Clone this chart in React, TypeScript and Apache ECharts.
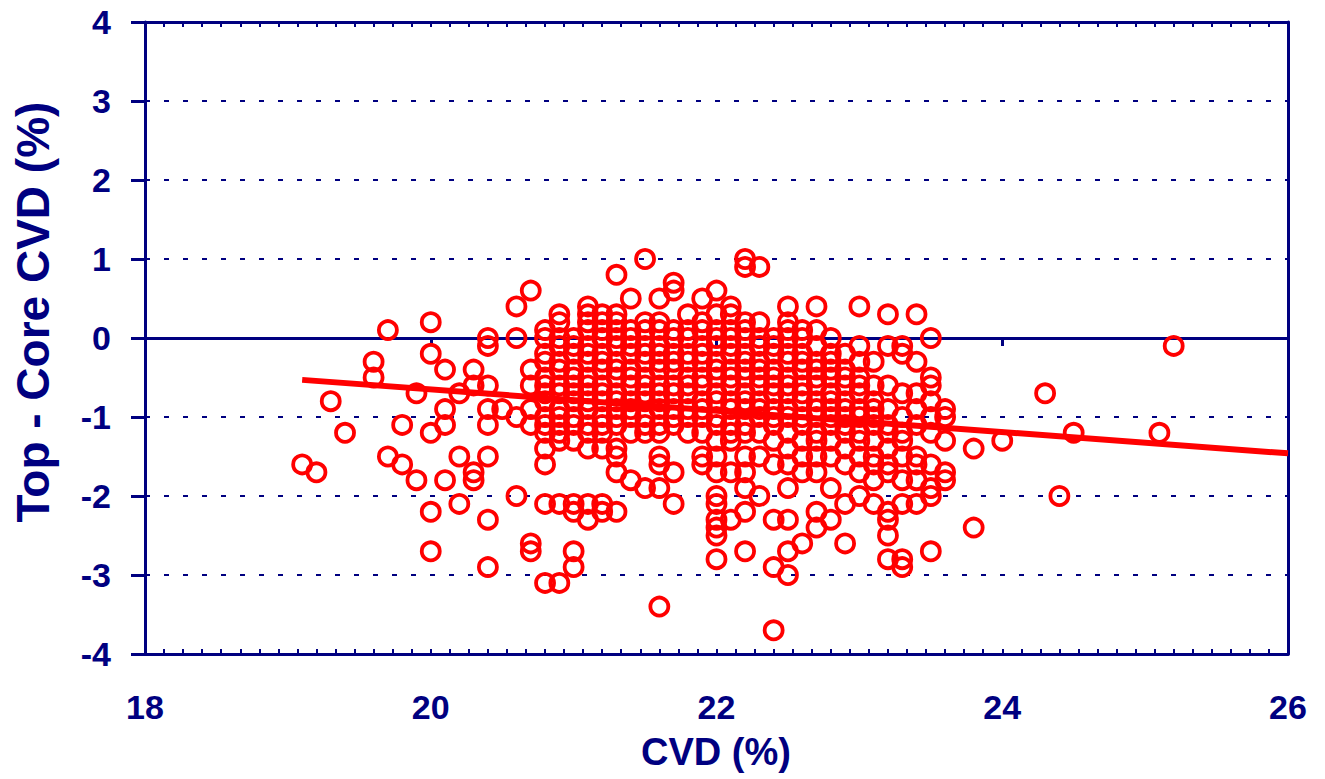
import { useEffect, useRef } from "react";
import * as echarts from "echarts";

// ---- Axis ranges / labels ----
const xRange = [18, 26];
const xStep = 2;
const yRange = [-4, 4];
const yStep = 1;
const xTitle = "CVD (%)";
const yTitle = "Top - Core CVD (%)";

// ---- Sparse points on the left (CVD, Top-Core) ----
const leftPoints: number[][] = [
  [19.1, -1.6], [19.2, -1.7], [19.3, -0.8], [19.4, -1.2], [19.6, -0.3], [19.6, -0.5],
  [19.7, 0.1], [19.7, -1.5], [19.8, -1.1], [19.8, -1.6], [19.9, -0.7], [19.9, -1.8],
  [20.0, 0.2], [20.0, -0.2], [20.0, -1.2], [20.0, -2.2], [20.0, -2.7],
  [20.1, -0.4], [20.1, -0.9], [20.1, -1.1], [20.1, -1.8],
  [20.2, -0.7], [20.2, -1.5], [20.2, -2.1],
  [20.3, -0.4], [20.3, -0.6], [20.3, -1.7], [20.3, -1.8],
  [20.4, 0.0], [20.4, -0.1], [20.4, -0.6], [20.4, -0.9], [20.4, -1.1], [20.4, -1.5], [20.4, -2.3], [20.4, -2.9],
  [20.5, -0.9],
  [20.6, 0.4], [20.6, 0.0], [20.6, -1.0], [20.6, -2.0],
  [20.7, 0.6], [20.7, -0.4], [20.7, -0.6], [20.7, -0.9], [20.7, -1.1], [20.7, -2.6], [20.7, -2.7],
];

// ---- Dense central cloud: CVD column and its Top-Core values ----
const denseCvd = [
  20.8, 20.9, 21.0, 21.1, 21.2, 21.3, 21.4, 21.5, 21.6, 21.7,
  21.8, 21.9, 22.0, 22.1, 22.2, 22.3, 22.4, 22.5, 22.6, 22.7,
  22.8, 22.9, 23.0, 23.1, 23.2, 23.3, 23.4, 23.5, 23.6,
];
const denseDiff: number[][] = [
  [0.1, 0.0, -0.2, -0.3, -0.5, -0.6, -0.7, -0.8, -1.0, -1.1, -1.2, -1.4, -1.6, -2.1, -3.1],
  [0.3, 0.2, 0.0, -0.1, -0.3, -0.4, -0.6, -0.7, -0.9, -1.0, -1.1, -1.2, -1.3, -2.1, -3.1],
  [0.0, -0.1, -0.2, -0.4, -0.5, -0.6, -0.7, -0.8, -1.0, -1.1, -1.3, -2.1, -2.2, -2.7, -2.9],
  [0.4, 0.3, 0.2, 0.1, -0.1, -0.2, -0.3, -0.5, -0.6, -0.7, -0.8, -0.9, -1.1, -1.2, -1.4, -2.1, -2.3],
  [0.3, 0.2, 0.1, 0.0, -0.2, -0.3, -0.4, -0.6, -0.7, -0.8, -1.0, -1.1, -1.2, -1.4, -2.1, -2.2],
  [0.8, 0.3, 0.2, 0.1, 0.0, -0.1, -0.3, -0.4, -0.5, -0.7, -0.8, -0.9, -1.0, -1.1, -1.4, -1.5, -1.7, -2.2],
  [0.5, 0.1, 0.0, -0.1, -0.2, -0.4, -0.5, -0.6, -0.8, -0.9, -1.0, -1.2, -1.8],
  [1.0, 0.2, 0.1, -0.1, -0.2, -0.3, -0.5, -0.6, -0.7, -0.8, -1.0, -1.1, -1.2, -1.9],
  [0.5, 0.2, 0.1, -0.1, -0.2, -0.3, -0.4, -0.6, -0.7, -0.8, -0.9, -1.1, -1.2, -1.5, -1.6, -1.9, -3.4],
  [0.7, 0.6, 0.1, 0.0, -0.2, -0.3, -0.4, -0.6, -0.7, -0.9, -1.0, -1.1, -1.7, -2.1],
  [0.3, 0.1, 0.0, -0.2, -0.3, -0.5, -0.6, -0.7, -0.9, -1.0, -1.2],
  [0.5, 0.2, 0.1, -0.1, -0.2, -0.3, -0.5, -0.6, -0.8, -0.9, -1.0, -1.2, -1.5, -1.6],
  [0.6, 0.3, 0.1, 0.0, -0.1, -0.3, -0.4, -0.5, -0.7, -0.8, -1.0, -1.1, -1.3, -1.5, -1.7, -2.0, -2.1, -2.3, -2.4, -2.5, -2.8],
  [0.4, 0.3, 0.1, 0.0, -0.1, -0.2, -0.4, -0.5, -0.6, -0.8, -0.9, -1.1, -1.2, -1.3, -1.7, -2.3],
  [1.0, 0.9, 0.2, 0.1, 0.0, -0.2, -0.3, -0.4, -0.5, -0.7, -0.8, -0.9, -1.1, -1.2, -1.5, -1.7, -1.9, -2.2, -2.7],
  [0.9, 0.2, 0.0, -0.1, -0.3, -0.4, -0.5, -0.6, -0.8, -0.9, -1.0, -1.2, -1.5, -2.0],
  [0.0, -0.1, -0.2, -0.4, -0.5, -0.6, -0.7, -0.9, -1.0, -1.1, -1.3, -1.6, -2.3, -2.9, -3.7],
  [0.4, 0.2, 0.1, 0.0, -0.2, -0.3, -0.5, -0.6, -0.7, -0.9, -1.0, -1.2, -1.4, -1.6, -1.9, -2.3, -2.7, -3.0],
  [0.1, 0.0, -0.2, -0.3, -0.4, -0.6, -0.7, -0.8, -1.0, -1.1, -1.3, -1.5, -1.7, -2.6],
  [0.4, 0.1, -0.1, -0.3, -0.4, -0.5, -0.6, -0.8, -0.9, -1.0, -1.2, -1.3, -1.5, -1.7, -2.2, -2.4],
  [0.0, -0.2, -0.3, -0.4, -0.5, -0.7, -0.8, -0.9, -1.0, -1.1, -1.3, -1.5, -1.9, -2.3],
  [-0.2, -0.4, -0.5, -0.6, -0.8, -0.9, -1.0, -1.1, -1.2, -1.4, -1.6, -2.1, -2.6],
  [0.4, -0.1, -0.3, -0.5, -0.6, -0.7, -0.9, -1.0, -1.2, -1.3, -1.5, -1.7, -2.0],
  [-0.3, -0.6, -0.8, -0.9, -1.0, -1.1, -1.3, -1.5, -1.6, -1.8, -2.1],
  [0.3, -0.1, -0.6, -0.9, -1.1, -1.2, -1.4, -1.6, -1.7, -2.2, -2.3, -2.5, -2.8],
  [-0.1, -0.2, -0.7, -1.0, -1.2, -1.3, -1.5, -1.8, -2.1, -2.8, -2.9],
  [0.3, -0.3, -0.7, -0.9, -1.1, -1.5, -1.6, -1.8, -2.1],
  [0.0, -0.5, -0.6, -0.8, -1.0, -1.2, -1.6, -1.9, -2.0, -2.7],
  [-0.9, -1.0, -1.3, -1.7, -1.8],
];

// ---- Sparse points on the right ----
const rightPoints: number[][] = [
  [23.8, -1.4], [23.8, -2.4], [24.0, -1.3], [24.3, -0.7], [24.4, -2.0],
  [24.5, -1.2], [25.1, -1.2], [25.2, -0.1],
];

// ---- Regression line end points ----
const trendCvd = [19.1, 26.0];
const trendDiff = [-0.53, -1.46];

const NAVY = "#000080";
const RED = "#FF0000";
const FONT = '"Liberation Sans", Arial, Helvetica, sans-serif';

export default function App() {
  const ref = useRef<HTMLDivElement>(null);

  useEffect(() => {
    if (!ref.current) return;
    const chart = echarts.init(ref.current, null, { renderer: "svg" });

    const points: number[][] = [...leftPoints];
    denseCvd.forEach((x, i) => {
      denseDiff[i].forEach((y) => points.push([x, y]));
    });
    points.push(...rightPoints);

    const labelStyle = {
      color: NAVY,
      fontFamily: FONT,
      fontWeight: "bold" as const,
      fontSize: 34,
    };

    chart.setOption({
      animation: false,
      backgroundColor: "#ffffff",
      grid: { left: 145, right: 37, top: 22, bottom: 125, containLabel: false },
      xAxis: [
        {
          type: "value",
          position: "bottom",
          min: xRange[0],
          max: xRange[1],
          interval: xStep,
          axisLine: { show: true, onZero: false, lineStyle: { color: NAVY, width: 3 } },
          axisTick: { show: true, inside: true, length: 5, lineStyle: { color: NAVY, width: 2 } },
          minorTick: { show: true, splitNumber: 15, length: 5, lineStyle: { color: NAVY, width: 2 } },
          axisLabel: { ...labelStyle, margin: 36 },
          splitLine: { show: false },
        },
        {
          type: "value",
          position: "bottom",
          min: xRange[0],
          max: xRange[1],
          interval: xStep,
          axisLine: { show: true, onZero: true, lineStyle: { color: NAVY, width: 3 } },
          axisTick: { show: true, inside: false, length: 8, lineStyle: { color: NAVY, width: 3 } },
          axisLabel: { show: false },
          splitLine: { show: false },
        },
        {
          type: "value",
          position: "top",
          min: xRange[0],
          max: xRange[1],
          interval: xStep,
          axisLine: { show: true, onZero: false, lineStyle: { color: NAVY, width: 3 } },
          axisTick: { show: true, inside: true, length: 5, lineStyle: { color: NAVY, width: 2 } },
          minorTick: { show: true, splitNumber: 15, length: 5, lineStyle: { color: NAVY, width: 2 } },
          axisLabel: { show: false },
          splitLine: { show: false },
        },
      ],
      yAxis: [
        {
          type: "value",
          position: "left",
          min: yRange[0],
          max: yRange[1],
          interval: yStep,
          axisLine: { show: true, onZero: false, lineStyle: { color: NAVY, width: 3 } },
          axisTick: { show: true, inside: false, length: 14, lineStyle: { color: NAVY, width: 3 } },
          axisLabel: { ...labelStyle, margin: 34 },
          splitLine: {
            show: true,
            lineStyle: { color: NAVY, width: 2, type: [5, 14] },
          },
        },
        {
          type: "value",
          position: "right",
          min: yRange[0],
          max: yRange[1],
          axisLine: { show: true, onZero: false, lineStyle: { color: NAVY, width: 3 } },
          axisTick: { show: false },
          axisLabel: { show: false },
          splitLine: { show: false },
        },
      ],
      series: [
        {
          type: "scatter",
          xAxisIndex: 0,
          yAxisIndex: 0,
          symbol: "circle",
          symbolSize: 18,
          data: points,
          silent: true,
          itemStyle: { color: "rgba(0,0,0,0)", borderColor: RED, borderWidth: 3.8, opacity: 1 },
          z: 3,
        },
        {
          type: "line",
          xAxisIndex: 0,
          yAxisIndex: 0,
          data: trendCvd.map((x, i) => [x, trendDiff[i]]),
          showSymbol: false,
          symbol: "none",
          silent: true,
          lineStyle: { color: RED, width: 6 },
          z: 4,
        },
      ],
      graphic: [
        {
          type: "text",
          x: 716,
          y: 752,
          style: {
            text: xTitle,
            fill: NAVY,
            font: `bold 38px ${FONT}`,
            align: "center",
            verticalAlign: "middle",
          },
        },
        {
          type: "text",
          x: 33,
          y: 312,
          rotation: Math.PI / 2,
          style: {
            text: yTitle,
            fill: NAVY,
            font: `bold 46px ${FONT}`,
            align: "center",
            verticalAlign: "middle",
          },
        },
      ],
    });

    return () => {
      chart.dispose();
    };
  }, []);

  return (
    <div
      ref={ref}
      style={{
        position: "fixed",
        left: 0,
        top: 0,
        width: 1325,
        height: 779,
        background: "#ffffff",
      }}
    />
  );
}
